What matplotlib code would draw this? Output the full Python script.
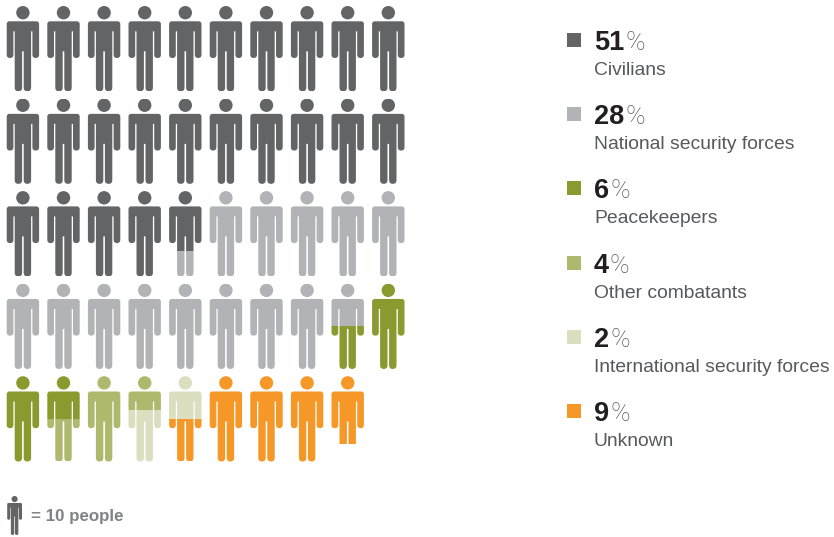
import numpy as np
import matplotlib
matplotlib.use("Agg")
import matplotlib.pyplot as plt
from matplotlib.patches import PathPatch, Rectangle
from matplotlib.path import Path

plt.rcParams['font.family'] = ['Liberation Sans', 'DejaVu Sans']

# casualties by group, one figure stands for 10 people
groups = ["Civilians", "National security forces", "Peacekeepers",
          "Other combatants", "International security forces", "Unknown"]
people = [247, 138, 30, 19, 11, 43]
colors = ["#636466", "#b1b3b6", "#8a9a2e", "#afb86c", "#dbdfbf", "#f59827"]

PER_FIGURE = 10
PER_ROW = 10
FIG_W = 32.4
FIG_H = 85.3
STEP_X = 40.6
STEP_Y = 92.55
LEFT = 6.7
TOP = 6.0


def person_path(x0, y0, scale=1.0):
    # body outline in pixels, rounded with quadratic corners
    pts = [
        (Path.MOVETO, (0, 18)),
        (Path.CURVE3, (0, 15.3)), (Path.CURVE3, (2.7, 15.3)),
        (Path.LINETO, (29.7, 15.3)),
        (Path.CURVE3, (32.4, 15.3)), (Path.CURVE3, (32.4, 18)),
        (Path.LINETO, (32.4, 48.6)),
        (Path.CURVE3, (32.4, 52)), (Path.CURVE3, (29.05, 52)),
        (Path.CURVE3, (25.7, 52)), (Path.CURVE3, (25.7, 48.6)),
        (Path.LINETO, (25.7, 25.3)),
        (Path.LINETO, (24.4, 25.3)),
        (Path.LINETO, (24.4, 81.6)),
        (Path.CURVE3, (24.4, 85.3)), (Path.CURVE3, (20.7, 85.3)),
        (Path.CURVE3, (17.0, 85.3)), (Path.CURVE3, (17.0, 81.6)),
        (Path.LINETO, (17.0, 45.3)),
        (Path.LINETO, (15.4, 45.3)),
        (Path.LINETO, (15.4, 81.6)),
        (Path.CURVE3, (15.4, 85.3)), (Path.CURVE3, (11.7, 85.3)),
        (Path.CURVE3, (8.0, 85.3)), (Path.CURVE3, (8.0, 81.6)),
        (Path.LINETO, (8.0, 25.3)),
        (Path.LINETO, (6.7, 25.3)),
        (Path.LINETO, (6.7, 48.6)),
        (Path.CURVE3, (6.7, 52)), (Path.CURVE3, (3.35, 52)),
        (Path.CURVE3, (0, 52)), (Path.CURVE3, (0, 48.6)),
        (Path.CLOSEPOLY, (0, 18)),
    ]
    codes = [p[0] for p in pts]
    verts = np.array([p[1] for p in pts], dtype=float)
    head = Path.circle((16.2, 6.7), 6.7)
    verts = np.vstack([verts, head.vertices])
    codes = codes + list(head.codes)
    verts = verts * scale + np.array([x0, y0])
    return Path(verts, codes)


fig = plt.figure(figsize=(8.34, 5.37), dpi=100)
ax = fig.add_axes([0, 0, 1, 1])
ax.set_xlim(0, 834)
ax.set_ylim(537, 0)
ax.axis('off')

# cumulative group limits, measured in figures
ends = np.cumsum(people) / PER_FIGURE
starts = np.concatenate([[0], ends[:-1]])

n_figures = int(np.ceil(ends[-1]))
for i in range(n_figures):
    row, col = divmod(i, PER_ROW)
    x0 = LEFT + col * STEP_X
    y0 = TOP + row * STEP_Y
    for s, e, c in zip(starts, ends, colors):
        lo = max(s, i)
        hi = min(e, i + 1)
        if hi <= lo:
            continue
        # each figure fills from head to feet
        body = PathPatch(person_path(x0, y0), facecolor=c, linewidth=0)
        ax.add_patch(body)
        band = Rectangle((x0 - 1, y0 + (lo - i) * FIG_H), FIG_W + 2,
                         (hi - lo) * FIG_H, transform=ax.transData)
        body.set_clip_path(band)

# key for the figure scale
ax.add_patch(PathPatch(person_path(7.2, 496, 0.457),
                       facecolor=colors[0], linewidth=0))
ax.text(31, 517, "= 10 people", fontsize=12.2, fontweight='bold',
        color="#808285", va='center', ha='left')

# legend
total = sum(people)
for j, (name, n, c) in enumerate(zip(groups, people, colors)):
    y = 40 + j * 74.2
    ax.add_patch(Rectangle((567, y - 7), 14, 14, facecolor=c, linewidth=0))
    pct = round(100 * n / total)
    t = ax.text(594, y + 10, str(pct), fontsize=19.5, fontweight='bold',
                color="#231f20", va='baseline', ha='left')
    fig.canvas.draw()
    bb = t.get_window_extent()
    ax.text(bb.x1 + 1, y + 10, "%", fontsize=19, color="#58595b",
            va='baseline', ha='left', family=['Roboto', 'DejaVu Sans'],
            fontweight='light')
    ax.text(594, y + 35, name, fontsize=13.85, color="#58595b",
            va='baseline', ha='left')

fig.savefig("out.png", dpi=100)
